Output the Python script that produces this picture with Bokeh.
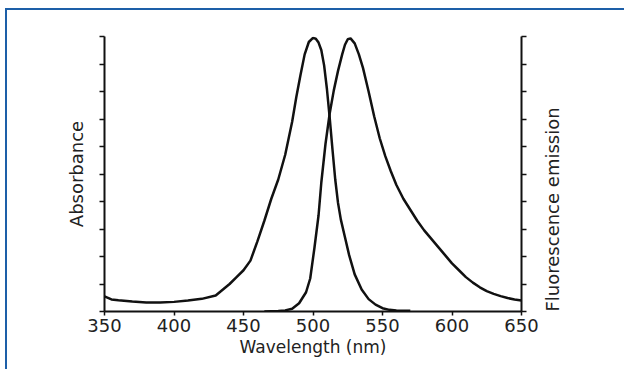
from math import pi
from bokeh.plotting import figure
from bokeh.models import LinearAxis, Range1d
from bokeh.embed import file_html
from bokeh.resources import INLINE

# ---- data ----
wavelength_abs = [350, 355, 360, 370, 380, 390, 400, 410, 420, 430, 440, 445, 450, 455,
                  460, 465, 470, 475, 480, 485, 488, 491, 494, 497, 500, 502, 504, 506,
                  508, 510, 512, 514, 516, 518, 520, 523, 526, 530, 535, 540, 545, 550,
                  555, 560, 570]
absorbance = [0.055, 0.044, 0.041, 0.036, 0.033, 0.033, 0.035, 0.040, 0.046, 0.058, 0.100,
              0.125, 0.150, 0.185, 0.255, 0.330, 0.410, 0.480, 0.570, 0.690, 0.780, 0.860,
              0.935, 0.980, 0.995, 0.992, 0.978, 0.950, 0.895, 0.810, 0.705, 0.590, 0.480,
              0.395, 0.335, 0.270, 0.205, 0.135, 0.080, 0.045, 0.025, 0.012, 0.006, 0.004,
              0.003]

wavelength_em = [465, 475, 480, 485, 490, 495, 498, 501, 504, 506, 509, 512, 515, 518, 521,
                 523, 525, 527, 530, 533, 536, 540, 544, 548, 552, 556, 560, 565, 570, 575,
                 580, 585, 590, 595, 600, 605, 610, 615, 620, 625, 630, 635, 640, 645, 650]
emission = [0.000, 0.002, 0.004, 0.010, 0.030, 0.070, 0.120, 0.230, 0.350, 0.470, 0.610,
            0.720, 0.805, 0.875, 0.935, 0.970, 0.990, 0.993, 0.975, 0.935, 0.885, 0.800,
            0.710, 0.630, 0.565, 0.510, 0.460, 0.410, 0.370, 0.330, 0.295, 0.265, 0.235,
            0.205, 0.175, 0.150, 0.125, 0.105, 0.088, 0.074, 0.064, 0.056, 0.049, 0.044,
            0.040]

x_ticks = [350, 400, 450, 500, 550, 600, 650]
y_ticks = [0, 0.1, 0.2, 0.3, 0.4, 0.5, 0.6, 0.7, 0.8, 0.9, 1.0]
x_title = "Wavelength (nm)"
left_title = "Absorbance"
right_title = "Fluorescence emission"

FONT = "DejaVu Sans"
TEXT = "#222222"

p = figure(width=619, height=361, output_backend="svg", toolbar_location=None,
           x_range=Range1d(350, 650), y_range=Range1d(0, 1),
           min_border_left=97, min_border_right=105, min_border_top=26,
           min_border_bottom=60)
p.styles = {"border-top": "2px solid #1d5fa8", "border-left": "2px solid #1d5fa8",
            "margin-left": "5px", "margin-top": "8px"}
p.outline_line_color = None
p.xgrid.visible = False
p.ygrid.visible = False
p.background_fill_color = "white"
p.border_fill_color = "white"

p.line(wavelength_abs, absorbance, line_color="#111111", line_width=2.5)
p.line(wavelength_em, emission, line_color="#111111", line_width=2.5)

xa = p.xaxis[0]
xa.ticker = x_ticks
xa.axis_line_width = 2
xa.axis_line_color = "#111111"
xa.major_tick_line_width = 1.5
xa.major_tick_line_color = "#111111"
xa.major_tick_out = 4
xa.major_tick_in = 0
xa.minor_tick_line_color = None
xa.major_label_standoff = 3
xa.major_label_text_font = FONT
xa.major_label_text_font_size = "18px"
xa.major_label_text_color = TEXT
xa.axis_label = x_title
xa.axis_label_text_font = FONT
xa.axis_label_text_font_size = "17px"
xa.axis_label_text_font_style = "normal"
xa.axis_label_text_color = TEXT
xa.axis_label_standoff = 2

ya = p.yaxis[0]
ya_r = LinearAxis()
p.add_layout(ya_r, "right")
for ax in (ya, ya_r):
    ax.ticker = y_ticks
    ax.axis_line_width = 2
    ax.axis_line_color = "#111111"
    ax.major_tick_line_width = 1.5
    ax.major_tick_line_color = "#111111"
    ax.major_tick_out = 5
    ax.major_tick_in = 0
    ax.minor_tick_line_color = None
    ax.major_label_overrides = {t: "" for t in y_ticks}
    ax.major_label_standoff = 0
    ax.axis_label_text_font = FONT
    ax.axis_label_text_font_size = "18px"
    ax.axis_label_text_font_style = "normal"
    ax.axis_label_text_color = TEXT

ya.axis_label = left_title
ya.axis_label_standoff = 13
ya_r.axis_label = right_title
ya_r.axis_label_standoff = 26
try:
    ya_r.axis_label_orientation = pi / 2
except Exception:
    pass
try:
    ya_r.axis_label_align = "start"
except Exception:
    pass

open("out.html", "w").write(file_html(p, INLINE))
